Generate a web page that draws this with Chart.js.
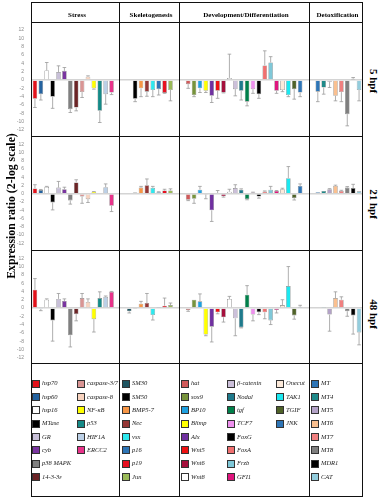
<!DOCTYPE html>
<html><head><meta charset="utf-8">
<script src="https://cdn.jsdelivr.net/npm/chart.js@4.4.1/dist/chart.umd.min.js"></script>
<style>
html,body{margin:0;padding:0;background:#fff;}
#wrap{position:relative;width:381px;height:500px;overflow:hidden;font-family:"Liberation Serif","DejaVu Serif",serif;color:#000;}
canvas{position:absolute;left:0;}
.ln{position:absolute;background:#111;}
.hdr{position:absolute;top:11px;height:8px;line-height:8px;font-weight:bold;font-size:7px;text-align:center;white-space:nowrap;}
.rot{position:absolute;font-weight:bold;white-space:nowrap;}
.lg{position:absolute;height:8px;font-style:italic;font-size:6.5px;line-height:8px;white-space:nowrap;color:#222;}
.sw{position:absolute;width:6px;height:6px;border:0.7px solid #333;box-sizing:content-box;}
</style></head><body><div id="wrap"></div>
<script>
// ---------- categories ----------
const stressGenes = ['hsp70','hsp60','hsp16','MTase','GR','cyb','p38 MAPK','14-3-3ε','caspase-3/7','caspase-8','NF-κB','p53','HIF1A','ERCC2'];
const skeletoGenes = ['SM30','SM50','BMP5-7','Nec','vsx','p16','p19','Jun'];
const devGenes = ['hat','sox9','BP10','Blimp','Alx','Wnt5','Wnt6','Wnt8','β-catenin','Nodal','tgf','TCF7','FoxG','FoxA','Frzb','GFI1','Onecut','TAK1','TGIF','JNK'];
const detoxGenes = ['MT','MT4','MT5','MT6','MT7','MT8','MDR1','CAT'];
const groupNames = ['Stress','Skeletogenesis','Development/Differentiation','Detoxification'];
const stages = ['5 hpf','21 hpf','48 hpf'];
const yTicks = [-12,-10,-8,-6,-4,-2,0,2,4,6,8,10,12];
const yTitle = 'Expression ratio (2-log scale)';

// ---------- values (log2 ratio) and error bars ----------
const stress5 = [-4.5,-3.4,2.3,-4.0,1.9,2.2,-7.0,-6.6,-2.9,0.8,-2.0,-7.4,-3.4,-3.0];
const stress5Err = [2.1,1.4,1.9,2.8,1.5,0.8,0.8,0.8,1.3,0.2,0.2,2.8,2.4,0.5];
const skel5 = [0,-4.5,-2.0,-2.8,-2.4,-2.2,-3.1,-2.4];
const skel5Err = [0,0.7,2.0,1.1,1.6,1.4,0.1,2.6];
const dev5 = [-1.0,-3.6,-2.0,-2.6,-3.8,-2.6,-3.0,0.5,-2.2,-2.6,-5.2,-2.2,-3.4,3.5,4.2,-2.6,-2.4,-3.6,-2.2,-3.0];
const dev5Err = [1.0,0.4,1.0,0.4,1.6,1.8,0.1,5.7,1.6,2.2,1.0,1.0,1.0,3.5,1.4,0.6,0.4,0.4,2.4,1.0];
const detox5 = [-2.8,-1.8,-0.4,-3.8,-2.9,-8.2,0.3,-2.4];
const detox5Err = [2.4,1.6,1.4,1.2,2.3,2.8,0.3,2.6];

const stress21 = [1.3,0.9,1.7,-2.1,1.5,1.1,-1.6,2.75,-0.65,-1.3,0.5,0,1.6,-2.9];
const stress21Err = [0.9,0.15,0.1,1.8,1.5,0.5,0.9,0.65,1.65,0.8,0.05,0,0.8,1.4];
const skel21 = [0,0.3,1.5,2.1,1.45,0.4,0.8,0.8];
const skel21Err = [0,0,0.3,1.5,0.35,0.1,0.3,0.4];
const dev21 = [-1.45,-1.2,1.0,-0.2,-4.0,0.2,-0.6,0.5,1.4,1.0,-1.3,0.3,-0.65,0.55,1.0,0.7,1.1,3.8,-1.05,1.9];
const dev21Err = [0.2,1.1,0.8,1.0,2.7,0.6,0.2,0.6,0.8,0.2,0.15,0.1,0.4,0.15,0.8,0.1,0.25,2.8,0.45,0.5];
const detox21 = [0.4,0.7,1.1,1.9,0.7,1.5,1.4,0.6];
const detox21Err = [0,0,0.15,0.2,0.15,0.25,0.9,0];

const stress48 = [4.4,-0.25,2.0,-3.0,2.2,1.7,-6.6,-1.5,2.4,1.45,-2.7,2.4,2.7,3.9];
const stress48Err = [2.7,0.4,0.2,5.0,1.3,0.5,2.8,1.6,1.1,0.75,3.1,1.5,0.2,0.1];
const skel48 = [-0.8,-0.25,1.05,1.2,-1.7,0.25,0.55,0.7];
const skel48Err = [0.4,0,0.55,2.3,1.2,0,1.85,0.5];
const dev48 = [-0.5,2.0,1.6,-6.4,-4.5,-1.05,-2.25,2.2,-2.5,-4.7,3.2,-1.6,-1.0,-1.05,-3.0,-0.5,0.7,5.3,-1.8,0.3];
const dev48Err = [0.3,0,1.8,0.3,3.7,0.35,1.15,0.6,4.2,0.1,2.2,1.5,0.6,1.55,1.0,0.7,1.3,4.7,0.9,0.35];
const detox48 = [0,0.1,-1.6,2.4,2.0,-0.8,-1.8,-5.9];
const detox48Err = [0,0,4.0,1.5,0.7,1.2,4.5,3.0];

// ---------- styles ----------
const stressColors = ['#e3121b','#2463a0','#ffffff','#000000','#c8c0d8','#7a35a0','#808080','#6b2426','#d99594','#f8d3bf','#ffff00','#158a87','#bcd0e6','#e8338a'];
const skeletoColors = ['#1d5460','#000000','#f79646','#953735','#2ee8ee','#2e75b6','#e81020','#9bbb59'];
const devColors = ['#d05a5a','#77933c','#1ea0e0','#ffff00','#7030a0','#ee1111','#a50f3c','#ffffff','#ccc0da','#1f7a8c','#00804a','#ee90ee','#000000','#f07070','#7fc8d8','#e0157e','#fdeada','#1ce8f0','#4f6228','#2e75b6'];
const detoxColors = ['#2e75b6','#1f8a8a','#b3a2c7','#fac090','#f08080','#7f7f7f','#000000','#93cddd'];

const groups = [
  {name: groupNames[0], genes: stressGenes, colors: stressColors, vals: [stress5, stress21, stress48], errs: [stress5Err, stress21Err, stress48Err]},
  {name: groupNames[1], genes: skeletoGenes, colors: skeletoColors, vals: [skel5, skel21, skel48], errs: [skel5Err, skel21Err, skel48Err]},
  {name: groupNames[2], genes: devGenes, colors: devColors, vals: [dev5, dev21, dev48], errs: [dev5Err, dev21Err, dev48Err]},
  {name: groupNames[3], genes: detoxGenes, colors: detoxColors, vals: [detox5, detox21, detox48], errs: [detox5Err, detox21Err, detox48Err]}
];

// layout (pixels)
const W = document.getElementById('wrap');
const frameL = 31, frameR = 362, frameT = 2, frameB = 496;
const dividers = [119, 179, 309];
const hLines = [22, 136, 250, 363];
const rowBoxes = [{top:23,h:113,min:-13.44,max:13.68},{top:137,h:113,min:-13.62,max:13.77},{top:251,h:112,min:-13.28,max:13.76}];
const stageY = [81, 204, 314];
const GAP = 2;

// build category list with spacer slots between groups
const labels = [], barColors = [], borderColors = [];
groups.forEach((g, gi) => {
  if (gi > 0) for (let k = 0; k < GAP; k++) { labels.push(''); barColors.push('rgba(0,0,0,0)'); borderColors.push('rgba(0,0,0,0)'); }
  g.genes.forEach((name, i) => {
    labels.push(name);
    barColors.push(g.colors[i]);
    borderColors.push(g.colors[i] === '#ffffff' || g.colors[i] === '#fdeada' ? '#6a6a6a' : 'rgba(40,40,40,0.55)');
  });
});

function rowSeries(r, key) {
  const out = [];
  groups.forEach((g, gi) => {
    if (gi > 0) for (let k = 0; k < GAP; k++) out.push(null);
    g[key][r].forEach(v => out.push(v));
  });
  return out;
}

const errStore = new WeakMap();
const errPlugin = {
  id: 'errbars',
  afterDatasetsDraw(chart) {
    const errs = errStore.get(chart.canvas);
    if (!errs) return;
    const meta = chart.getDatasetMeta(0);
    const ys = chart.scales.y;
    const ctx = chart.ctx;
    ctx.save();
    ctx.strokeStyle = '#9a9a9a';
    ctx.lineWidth = 0.8;
    meta.data.forEach((bar, i) => {
      const v = chart.data.datasets[0].data[i];
      const e = errs[i];
      if (v === null || !e) return;
      const sgn = v >= 0 ? 1 : -1;
      const y0 = ys.getPixelForValue(v);
      const y1 = ys.getPixelForValue(v + sgn * e);
      ctx.beginPath();
      ctx.moveTo(bar.x, y0); ctx.lineTo(bar.x, y1);
      ctx.moveTo(bar.x - 1.8, y1); ctx.lineTo(bar.x + 1.8, y1);
      ctx.stroke();
    });
    ctx.restore();
  }
};

rowBoxes.forEach((rb, r) => {
  const cv = document.createElement('canvas');
  cv.width = frameR; cv.height = rb.h;
  cv.style.top = rb.top + 'px';
  cv.style.width = frameR + 'px'; cv.style.height = rb.h + 'px';
  W.appendChild(cv);
  errStore.set(cv, rowSeries(r, 'errs'));
  new Chart(cv, {
    type: 'bar',
    data: { labels: labels, datasets: [{ data: rowSeries(r, 'vals'), backgroundColor: barColors, borderColor: borderColors, borderWidth: 0.6, barPercentage: 0.78, categoryPercentage: 1 }] },
    options: {
      responsive: false, animation: false, devicePixelRatio: 1,
      layout: { padding: 0 },
      plugins: { legend: { display: false }, tooltip: { enabled: false } },
      scales: {
        x: { display: false, offset: true },
        y: {
          min: rb.min, max: rb.max,
          afterBuildTicks: s => { s.ticks = yTicks.map(v => ({ value: v })); },
          afterFit: s => { s.width = 32; s.paddingTop = 0; s.paddingBottom = 0; },
          ticks: { font: { size: 5, family: 'Liberation Sans' }, color: '#8a8a8a', padding: 8, autoSkip: false },
          grid: { drawTicks: false, color: c => (c.tick && c.tick.value === 0) ? '#d4d4d4' : 'rgba(0,0,0,0)', lineWidth: 1.6 },
          border: { display: false }
        }
      }
    },
    plugins: [errPlugin]
  });
});

// frame lines
function line(x, y, w, h) { const d = document.createElement('div'); d.className = 'ln'; Object.assign(d.style, { left: x + 'px', top: y + 'px', width: w + 'px', height: h + 'px' }); W.appendChild(d); }
line(frameL, frameT, frameR - frameL + 1, 1);
line(frameL, frameB, frameR - frameL + 1, 1);
line(frameL, frameT, 1, frameB - frameT + 1);
line(frameR, frameT, 1, frameB - frameT + 1);
dividers.forEach(x => line(x, frameT, 1, frameB - frameT + 1));
hLines.forEach(y => line(frameL, y, frameR - frameL + 1, 1));

// group headers
const colEdges = [frameL, ...dividers, frameR];
groups.forEach((g, gi) => {
  const d = document.createElement('div'); d.className = 'hdr';
  d.textContent = g.name;
  d.style.left = (colEdges[gi] + 2) + 'px';
  d.style.width = (colEdges[gi + 1] - colEdges[gi]) + 'px';
  W.appendChild(d);
});

// y-axis title and stage labels
const yt = document.createElement('div'); yt.className = 'rot'; yt.textContent = yTitle;
Object.assign(yt.style, { left: '11px', top: '206px', fontSize: '11.8px', transform: 'translate(-50%,-50%) rotate(-90deg)' });
W.appendChild(yt);
stages.forEach((s, i) => {
  const d = document.createElement('div'); d.className = 'rot'; d.textContent = s;
  Object.assign(d.style, { left: '374px', top: stageY[i] + 'px', fontSize: '11px', transform: 'translate(-50%,-50%) rotate(90deg)' });
  W.appendChild(d);
});

// legend
const legendCols = [
  {g: 0, from: 0, to: 8, x: 32}, {g: 0, from: 8, to: 14, x: 77},
  {g: 1, from: 0, to: 8, x: 122},
  {g: 2, from: 0, to: 8, x: 181}, {g: 2, from: 8, to: 16, x: 227}, {g: 2, from: 16, to: 20, x: 276},
  {g: 3, from: 0, to: 8, x: 311}
];
legendCols.forEach(c => {
  const g = groups[c.g];
  for (let i = c.from; i < c.to; i++) {
    const yc = 383.3 + 13.33 * (i - c.from);
    const sw = document.createElement('div'); sw.className = 'sw';
    Object.assign(sw.style, { left: c.x + 'px', top: (yc - 3.5) + 'px', background: g.colors[i] });
    W.appendChild(sw);
    const t = document.createElement('div'); t.className = 'lg'; t.textContent = g.genes[i];
    Object.assign(t.style, { left: (c.x + 10) + 'px', top: (yc - 4) + 'px' });
    W.appendChild(t);
  }
});
</script></body></html>
